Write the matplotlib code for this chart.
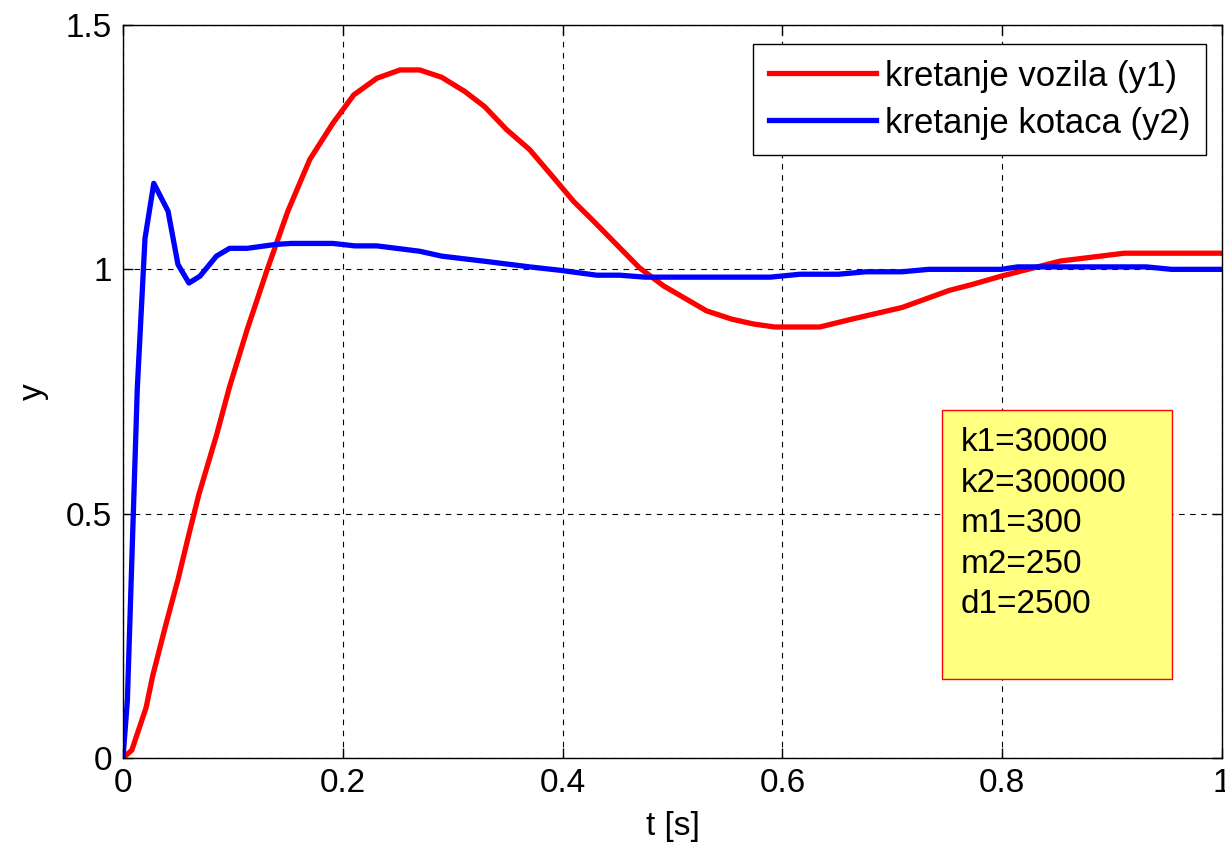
import matplotlib
matplotlib.use("Agg")
import matplotlib.pyplot as plt
from matplotlib.patches import Rectangle

plt.rcParams['font.family'] = ['Liberation Sans', 'DejaVu Sans']

# vehicle motion (y1)
t_y1 = [0.0, 0.008, 0.021, 0.027, 0.039, 0.050, 0.060, 0.069, 0.085, 0.097, 0.113,
        0.131, 0.150, 0.170, 0.191, 0.210, 0.231, 0.252, 0.270, 0.290, 0.311, 0.329,
        0.349, 0.370, 0.392, 0.410, 0.428, 0.449, 0.470, 0.492, 0.531, 0.554, 0.574,
        0.593, 0.634, 0.663, 0.709, 0.752, 0.771, 0.799, 0.853, 0.911, 1.0]
y1 = [0.0, 0.016, 0.103, 0.168, 0.273, 0.365, 0.458, 0.539, 0.660, 0.760, 0.877,
      0.998, 1.119, 1.225, 1.299, 1.357, 1.391, 1.408, 1.408, 1.393, 1.364, 1.333,
      1.286, 1.245, 1.187, 1.139, 1.099, 1.051, 1.003, 0.966, 0.915, 0.898, 0.888,
      0.882, 0.882, 0.898, 0.922, 0.957, 0.968, 0.986, 1.017, 1.033, 1.033]

# wheel motion (y2)
t_y2 = [0.0, 0.004, 0.013, 0.020, 0.028, 0.041, 0.050, 0.060, 0.070, 0.085, 0.097,
        0.113, 0.139, 0.153, 0.191, 0.211, 0.231, 0.270, 0.290, 0.331, 0.370, 0.398,
        0.431, 0.452, 0.475, 0.589, 0.616, 0.651, 0.676, 0.709, 0.733, 0.799, 0.814,
        0.931, 0.954, 1.0]
y2 = [0.0, 0.119, 0.756, 1.063, 1.176, 1.119, 1.010, 0.972, 0.986, 1.027, 1.043,
      1.043, 1.051, 1.053, 1.053, 1.048, 1.048, 1.037, 1.027, 1.016, 1.005, 0.998,
      0.988, 0.988, 0.984, 0.984, 0.990, 0.990, 0.995, 0.995, 1.0, 1.0, 1.005,
      1.005, 1.0, 1.0]

labels = ['kretanje vozila (y1)', 'kretanje kotaca (y2)']
params = ['k1=30000', 'k2=300000', 'm1=300', 'm2=250', 'd1=2500']
xticks = [0, 0.2, 0.4, 0.6, 0.8, 1]
xticklabels = ['0', '0.2', '0.4', '0.6', '0.8', '1']
yticks = [0, 0.5, 1, 1.5]
yticklabels = ['0', '0.5', '1', '1.5']

FS = 24

fig = plt.figure(figsize=(12.25, 8.51), dpi=100)
ax = fig.add_axes([123/1225, (851-758)/851, (1222-123)/1225, (758-25)/851])

ax.plot(t_y1, y1, color='#ff0000', lw=3.8, label=labels[0], solid_joinstyle='round')
ax.plot(t_y2, y2, color='#0000ff', lw=3.8, label=labels[1], solid_joinstyle='round')

ax.set_xlim(0, 1)
ax.set_ylim(0, 1.5)
ax.set_xticks(xticks)
ax.set_xticklabels(xticklabels)
ax.set_yticks(yticks)
ax.set_yticklabels(yticklabels)
ax.tick_params(direction='in', length=7, width=1, labelsize=FS, top=True, right=True)
ax.tick_params(axis='x', pad=7)
ax.tick_params(axis='y', pad=8)
for s in ax.spines.values():
    s.set_linewidth(1.0)
ax.grid(True, color='black', linestyle=(0, (5, 5)), linewidth=0.8)

ax.set_xlabel('t [s]', fontsize=FS, labelpad=9)
ax.set_ylabel('y', fontsize=FS, labelpad=12)

leg = ax.legend(loc='upper right', bbox_to_anchor=((1206-123)/1099, (758-44)/733),
                prop={'size': 25}, fancybox=False, framealpha=1, edgecolor='black',
                handlelength=3.1, handletextpad=0.25, borderpad=0.45,
                labelspacing=0.4, borderaxespad=0)
leg.get_frame().set_linewidth(1.0)

x0, x1 = (942-123)/1099, (1172-123)/1099
yb, yt = (758-679)/733, (758-410)/733
ax.add_patch(Rectangle((x0, yb), x1-x0, yt-yb, transform=ax.transAxes,
                       facecolor='#ffff80', edgecolor='#ff0000', lw=1.0, zorder=5))
ax.text(x0 + 19/1099, yt - 17/733, '\n'.join(params), transform=ax.transAxes,
        fontsize=FS, va='top', ha='left', linespacing=1.4, zorder=6)

fig.savefig('out.png', dpi=100)
